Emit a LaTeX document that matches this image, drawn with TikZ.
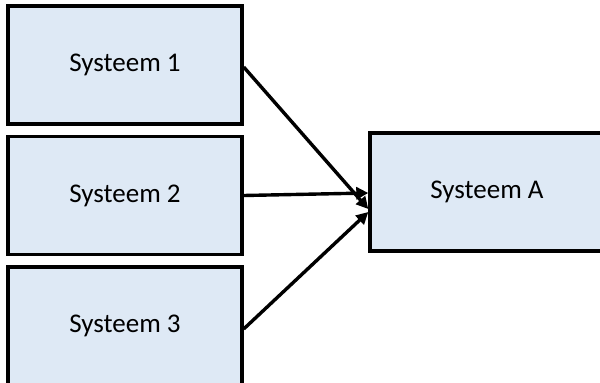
\documentclass[tikz,border=0pt]{standalone}
\usepackage{fontspec}
\setmainfont{Carlito}
\usetikzlibrary{arrows.meta}
\definecolor{boxfill}{RGB}{222,233,245}
\tikzset{
  sysbox/.style={draw=black, line width=3.4pt, fill=boxfill, minimum width=234pt, minimum height=118pt, inner sep=0pt, font=\fontsize{27}{30}\selectfont, anchor=center},
  conn/.style={line width=3.4pt, -{Triangle[length=12pt,width=12pt]}}
}
\begin{document}
\begin{tikzpicture}[x=1pt,y=-1pt]
\useasboundingbox (0,0) rectangle (600,383);
\node[sysbox] (s1) at (125,65) {Systeem 1};
\node[sysbox] (s2) at (125,195.5) {Systeem 2};
\node[sysbox] (s3) at (125,326) {Systeem 3};
\node[sysbox] (sa) at (487,192) {Systeem A};
\draw[conn] ([yshift=-2pt]s1.east) -- ([yshift=-17pt]sa.west);
\draw[conn] (s2.east) -- ([yshift=-1pt]sa.west);
\draw[conn] ([yshift=-3pt]s3.east) -- ([yshift=-20pt]sa.west);
\end{tikzpicture}
\end{document}
